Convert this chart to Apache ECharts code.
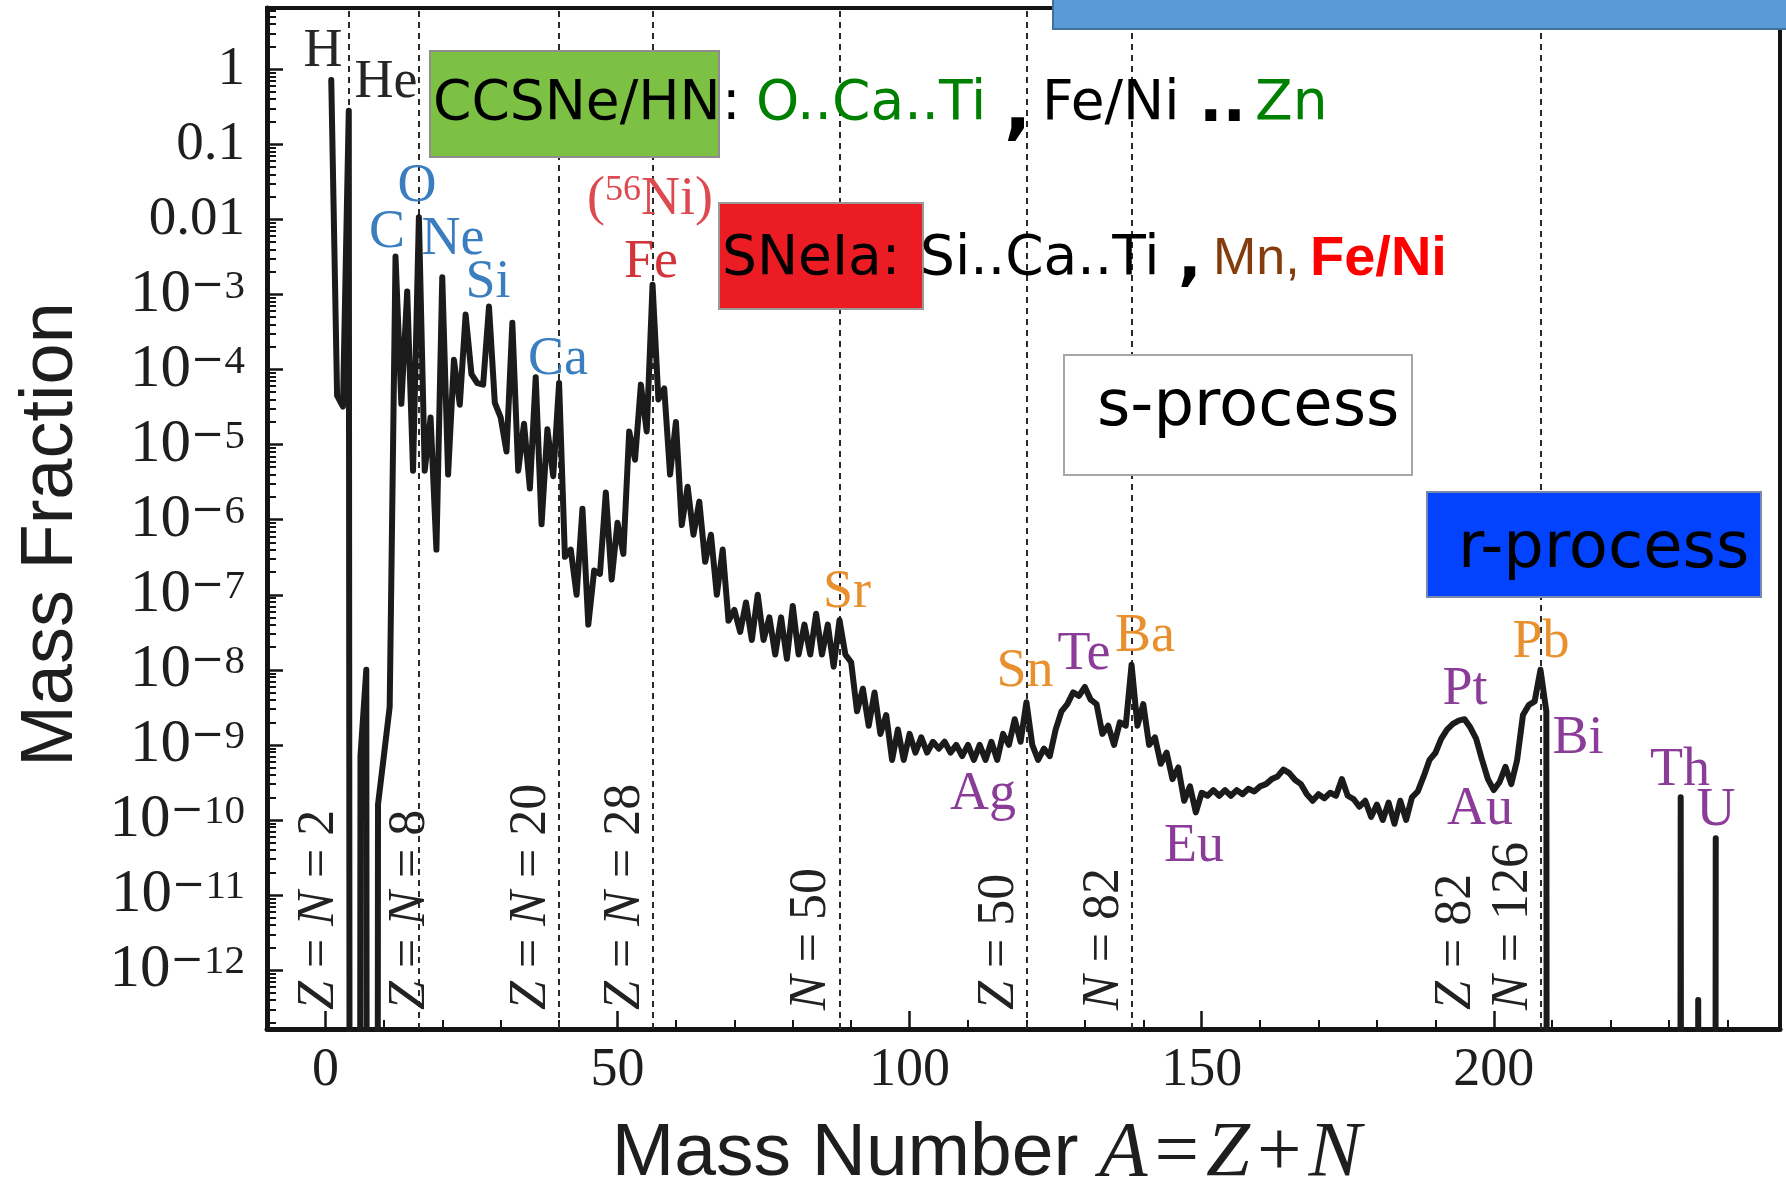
<!DOCTYPE html>
<html>
<head>
<meta charset="utf-8">
<title>Solar-system mass fractions</title>
<script src="https://cdn.jsdelivr.net/npm/echarts@6.0.0/dist/echarts.min.js"></script>
<style>
html, body { margin: 0; padding: 0; background: #ffffff; }
#chart { width: 1786px; height: 1181px; }
</style>
</head>
<body>
<div id="chart"></div>
<script>
// ---------------- data ----------------
const OFF = 1e-99; // no abundance: far below the plotted range

const massNumber = [
  1,2,3,4,5,6,7,8,9,10,
  11,12,13,14,15,16,17,18,19,20,
  21,22,23,24,25,26,27,28,29,30,
  31,32,33,34,35,36,37,38,39,40,
  41,42,43,44,45,46,47,48,49,50,
  51,52,53,54,55,56,57,58,59,60,
  61,62,63,64,65,66,67,68,69,70,
  71,72,73,74,75,76,77,78,79,80,
  81,82,83,84,85,86,87,88,89,90,
  91,92,93,94,95,96,97,98,99,100,
  101,102,103,104,105,106,107,108,109,110,
  111,112,113,114,115,116,117,118,119,120,
  121,122,123,124,125,126,127,128,129,130,
  131,132,133,134,135,136,137,138,139,140,
  141,142,143,144,145,146,147,148,149,150,
  151,152,153,154,155,156,157,158,159,160,
  161,162,163,164,165,166,167,168,169,170,
  171,172,173,174,175,176,177,178,179,180,
  181,182,183,184,185,186,187,188,189,190,
  191,192,193,194,195,196,197,198,199,200,
  201,202,203,204,205,206,207,208,209,
  210,231,232,233,234,235,236,237,238
];

const massFraction = [
  7.2e-1, 4.5e-5, 3.2e-5, 2.8e-1, OFF, 7.1e-10, 1.0e-8, OFF, 1.6e-10, 7.1e-10,
  3.2e-9, 3.2e-3, 3.5e-5, 1.1e-3, 4.5e-6, 1.07e-2, 4.5e-6, 2.3e-5, 4.0e-7, 1.7e-3,
  4.0e-6, 1.35e-4, 3.4e-5, 5.4e-4, 8.7e-5, 6.6e-5, 6.3e-5, 6.9e-4, 3.6e-5, 2.3e-5,
  8.1e-6, 4.2e-4, 4.5e-6, 1.9e-5, 2.6e-6, 7.9e-5, 8.7e-7, 1.6e-5, 3.8e-6, 6.6e-5,
  3.2e-7, 4.0e-7, 1.0e-7, 1.4e-6, 4.0e-8, 2.1e-7, 1.9e-7, 2.3e-6, 1.6e-7, 9.1e-7,
  3.5e-7, 1.5e-5, 6.3e-6, 6.3e-5, 1.5e-5, 1.35e-3, 4.0e-5, 5.6e-5, 4.0e-6, 2.0e-5,
  8.5e-7, 2.75e-6, 6.3e-7, 1.74e-6, 2.75e-7, 6.3e-7, 1.0e-7, 4.0e-7, 4.5e-8, 6.3e-8,
  3.2e-8, 7.9e-8, 2.5e-8, 1.0e-7, 2.5e-8, 5.0e-8, 1.6e-8, 5.0e-8, 1.4e-8, 7.1e-8,
  1.6e-8, 4.0e-8, 1.6e-8, 5.6e-8, 1.6e-8, 4.0e-8, 1.1e-8, 4.6e-8, 1.6e-8, 1.26e-8,
  2.8e-9, 5.6e-9, 1.8e-9, 5.0e-9, 1.4e-9, 2.5e-9, 6.3e-10, 1.6e-9, 6.3e-10, 1.4e-9,
  7.9e-10, 1.26e-9, 7.9e-10, 1.1e-9, 8.9e-10, 1.1e-9, 7.9e-10, 1.0e-9, 7.1e-10, 1.0e-9,
  6.3e-10, 1.0e-9, 6.3e-10, 1.1e-9, 6.3e-10, 1.4e-9, 1.0e-9, 2.2e-9, 1.1e-9, 3.7e-9,
  1.0e-9, 6.3e-10, 8.9e-10, 7.1e-10, 1.6e-9, 2.8e-9, 3.5e-9, 5.0e-9, 4.5e-9, 5.9e-9,
  4.0e-9, 3.5e-9, 1.4e-9, 1.8e-9, 1.0e-9, 2.0e-9, 1.8e-9, 1.17e-8, 1.8e-9, 3.5e-9,
  1.0e-9, 1.26e-9, 5.6e-10, 7.9e-10, 3.5e-10, 5.0e-10, 1.8e-10, 2.8e-10, 1.26e-10, 2.3e-10,
  2.1e-10, 2.5e-10, 2.1e-10, 2.5e-10, 2.1e-10, 2.5e-10, 2.2e-10, 2.6e-10, 2.4e-10, 2.8e-10,
  3.0e-10, 3.5e-10, 3.8e-10, 4.7e-10, 4.2e-10, 3.4e-10, 3.0e-10, 2.2e-10, 1.8e-10, 2.2e-10,
  1.95e-10, 2.3e-10, 2.1e-10, 3.5e-10, 2.1e-10, 1.9e-10, 1.5e-10, 1.8e-10, 1.1e-10, 1.6e-10,
  1.0e-10, 1.7e-10, 8.9e-11, 1.8e-10, 1.0e-10, 2.0e-10, 2.4e-10, 3.8e-10, 6.3e-10, 7.8e-10,
  1.2e-9, 1.6e-9, 1.9e-9, 2.1e-9, 2.2e-9, 1.7e-9, 1.2e-9, 6.3e-10, 3.5e-10, 2.5e-10,
  3.2e-10, 5.1e-10, 3.0e-10, 6.3e-10, 2.5e-9, 3.4e-9, 3.8e-9, 1.0e-8, 2.8e-9,
  OFF, OFF, 2.0e-10, OFF, OFF, 4.0e-13, OFF, OFF, 5.7e-11
];

// axes
const X_MIN = -10, X_MAX = 249;
const Y_MIN = 1.64e-13, Y_MAX = 6.56;
const xTickValues = [0, 50, 100, 150, 200];
const xMinorTickValues = [10, 20, 30, 40, 60, 70, 80, 90, 110, 120, 130, 140, 160, 170, 180, 190, 210, 220, 230, 240];
const yTickValues = [1, 0.1, 0.01, 1e-3, 1e-4, 1e-5, 1e-6, 1e-7, 1e-8, 1e-9, 1e-10, 1e-11, 1e-12];
const yMinorTickValues = [];
for (let n = -13; n <= 0; n++) {
  for (let k = 2; k <= 9; k++) {
    const v = Number((k * Math.pow(10, n)).toPrecision(3));
    if (v > Y_MIN && v < Y_MAX) yMinorTickValues.push(v);
  }
}

// magic numbers (dotted lines)
const magicA = [4, 16, 40, 56, 88, 120, 138, 208];
const magicLabels = [
  {parts: [['i','Z'],['r',' = '],['i','N'],['r',' = 2']], x: 319},
  {parts: [['i','Z'],['r',' = '],['i','N'],['r',' = 8']], x: 410},
  {parts: [['i','Z'],['r',' = '],['i','N'],['r',' = 20']], x: 531},
  {parts: [['i','Z'],['r',' = '],['i','N'],['r',' = 28']], x: 625},
  {parts: [['i','N'],['r',' = 50']], x: 811},
  {parts: [['i','Z'],['r',' = 50']], x: 999},
  {parts: [['i','N'],['r',' = 82']], x: 1104},
  {parts: [['i','Z'],['r',' = 82']], x: 1456},
  {parts: [['i','N'],['r',' = 126']], x: 1513}
];

// element annotations
const BLUE = '#3a7ebf', RED = '#d3343a', ORANGE = '#e8902d', PURPLE = '#8a3c98', DARK = '#262626';
const elementLabels = [
  ['H', DARK, 323, 52], ['He', DARK, 386, 83],
  ['O', BLUE, 417, 187], ['C', BLUE, 387, 233], ['Ne', BLUE, 453, 240],
  ['Si', BLUE, 488, 283], ['Ca', BLUE, 558, 360],
  ['Fe', RED, 651, 263],
  ['Sr', ORANGE, 847, 593], ['Sn', ORANGE, 1025, 672], ['Te', PURPLE, 1084, 655],
  ['Ba', ORANGE, 1145, 637], ['Ag', PURPLE, 983, 795], ['Eu', PURPLE, 1194, 847],
  ['Pt', PURPLE, 1465, 690], ['Pb', ORANGE, 1541, 643], ['Bi', PURPLE, 1578, 739],
  ['Au', PURPLE, 1480, 810], ['Th', PURPLE, 1680, 771], ['U', PURPLE, 1716, 811]
];

// ---------------- rendering ----------------
const SERIF = '"Liberation Serif", "Times New Roman", serif';
const SANS = '"Liberation Sans", Arial, sans-serif';
const DV = '"DejaVu Sans", Verdana, sans-serif';
const DVS = '"DejaVu Serif", serif';

const seriesData = massNumber.map((a, i) => [a, massFraction[i]]);

function text(x, y, str, font, fill, align, extra) {
  return {
    type: 'text', x: x, y: y, z: 110,
    style: Object.assign({
      text: str, font: font, fill: fill,
      align: align || 'left', verticalAlign: 'middle',
      textAlign: align || 'left', textVerticalAlign: 'middle'
    }, extra || {})
  };
}

const graphics = [];
// boxes
graphics.push({type: 'rect', z: 100, shape: {x: 1053, y: -3, width: 740, height: 32},
  style: {fill: '#5b9bd5', stroke: '#41719c', lineWidth: 2}});
graphics.push({type: 'rect', z: 100, shape: {x: 430, y: 51, width: 289, height: 106},
  style: {fill: '#7cc143', stroke: '#8e8e8e', lineWidth: 2}});
graphics.push({type: 'rect', z: 100, shape: {x: 719, y: 203, width: 204, height: 106},
  style: {fill: '#ec1c24', stroke: '#9a9a9a', lineWidth: 2}});
graphics.push({type: 'rect', z: 100, shape: {x: 1064, y: 355, width: 348, height: 120},
  style: {fill: '#ffffff', stroke: '#a6a6a6', lineWidth: 2}});
graphics.push({type: 'rect', z: 100, shape: {x: 1427, y: 492, width: 334, height: 105},
  style: {fill: '#0343fd', stroke: '#7b88ad', lineWidth: 2}});

// line 1: CCSNe/HN
graphics.push(text(433, 105, 'CCSNe/HN', '55px ' + DV, '#000'));
graphics.push(text(722, 105, ':', '55px ' + DV, '#000'));
graphics.push(text(756, 105, 'O..Ca..Ti', '55px ' + DV, '#008000'));
graphics.push(text(1004, 112, ',', 'bold 72px ' + DV, '#000'));
graphics.push(text(1042, 105, 'Fe/Ni', '55px ' + DV, '#000'));
graphics.push(text(1199, 105, '..', 'bold 62px ' + DV, '#000'));
graphics.push(text(1255, 105, 'Zn', '55px ' + DV, '#008000'));
// line 2: SNeIa
graphics.push(text(722, 260, 'SNeIa:', '55px ' + DV, '#000'));
graphics.push(text(920, 260, 'Si..Ca..Ti', '55px ' + DV, '#000'));
graphics.push(text(1178, 262, ',', 'bold 62px ' + DV, '#000'));
graphics.push(text(1213, 260, 'Mn,', '52px ' + SANS, '#843c0c'));
graphics.push(text(1310, 260, 'Fe/Ni', 'bold 56px ' + SANS, '#ff0000'));
// process boxes
graphics.push(text(1097, 408, 's-process', '64px ' + DV, '#000'));
graphics.push(text(1458, 550, 'r-process', '64px ' + DV, '#000'));

// element labels
elementLabels.forEach(e => {
  graphics.push(text(e[2], e[3], e[0], '54px ' + SERIF, e[1], 'center'));
});
// (56Ni)
graphics.push({
  type: 'text', x: 650, y: 200, z: 110,
  style: {
    text: '{p|(}{s|56}{p|Ni)}',
    align: 'center', verticalAlign: 'middle', textAlign: 'center', textVerticalAlign: 'middle',
    rich: {
      p: {fontFamily: SERIF, fontSize: 54, lineHeight: 54, fill: '#dc4a50'},
      s: {fontFamily: SERIF, fontSize: 36, lineHeight: 24, verticalAlign: 'top', fill: '#dc4a50'}
    }
  }
});
// rotated magic-number labels
magicLabels.forEach(m => {
  graphics.push({
    type: 'text', x: m.x, y: 1010, rotation: Math.PI / 2, z: 110,
    style: {
      text: m.parts.map(p => '{' + p[0] + '|' + p[1] + '}').join(''),
      align: 'left', verticalAlign: 'middle', textAlign: 'left', textVerticalAlign: 'middle',
      rich: {
        i: {fontFamily: SERIF, fontStyle: 'italic', fontSize: 52, fill: '#222'},
        r: {fontFamily: SERIF, fontSize: 52, fill: '#222'}
      }
    }
  });
});

function yLabel(v) {
  const e = Math.round(Math.log10(v));
  if (e === 0) return '1';
  if (e === -1) return '0.1';
  if (e === -2) return '0.01';
  return '{b|10}{m|\u2212}{s|' + (-e) + '}';
}

const option = {
  animation: false,
  backgroundColor: '#ffffff',
  grid: {left: 267, right: 6, top: 8, bottom: 152, show: true, containLabel: false,
    outerBoundsMode: 'none',
    borderColor: '#141414', borderWidth: 4, backgroundColor: 'transparent'},
  xAxis: [
    {
      type: 'value', min: X_MIN, max: X_MAX, position: 'bottom',
      axisLine: {show: true, onZero: false, lineStyle: {color: '#141414', width: 5}},
      axisTick: {show: true, inside: true, length: 18, customValues: xTickValues,
        lineStyle: {color: '#141414', width: 2.5}},
      axisLabel: {show: true, customValues: xTickValues, margin: 15,
        fontFamily: SERIF, fontSize: 54, color: '#1e1e1e'},
      splitLine: {show: false},
      name: '{s|Mass Number }{m|A}{g| }{r|=}{g| }{m|Z}{g| }{r|+}{g| }{m|N}',
      nameLocation: 'middle', nameGap: 86,
      nameTextStyle: {
        padding: [0, 74, 0, 0],
        rich: {
          s: {fontFamily: SANS, fontSize: 75, color: '#1e1e1e'},
          m: {fontFamily: SERIF, fontStyle: 'italic', fontSize: 79, color: '#1e1e1e'},
          r: {fontFamily: SERIF, fontSize: 79, color: '#1e1e1e'},
          g: {fontFamily: SERIF, fontSize: 28}
        }
      }
    },
    {
      type: 'value', min: X_MIN, max: X_MAX, position: 'bottom',
      axisLine: {show: false, onZero: false},
      axisTick: {show: true, inside: true, length: 9, customValues: xMinorTickValues,
        lineStyle: {color: '#141414', width: 2}},
      axisLabel: {show: false},
      splitLine: {show: false}
    }
  ],
  yAxis: [
    {
      type: 'log', logBase: 10, min: Y_MIN, max: Y_MAX, position: 'left',
      axisLine: {show: true, onZero: false, lineStyle: {color: '#141414', width: 5}},
      axisTick: {show: true, inside: true, length: 16, customValues: yTickValues,
        lineStyle: {color: '#141414', width: 2.5}},
      axisLabel: {show: true, customValues: yTickValues, margin: 22,
        fontFamily: SERIF, fontSize: 55, color: '#1e1e1e',
        formatter: yLabel,
        rich: {
          b: {fontFamily: SERIF, fontSize: 61, lineHeight: 56, color: '#1e1e1e'},
          m: {fontFamily: DVS, fontSize: 40, lineHeight: 26, verticalAlign: 'top', color: '#1e1e1e'},
          s: {fontFamily: SERIF, fontSize: 41, lineHeight: 26, verticalAlign: 'top', color: '#1e1e1e'}
        }
      },
      splitLine: {show: false},
      name: 'Mass Fraction', nameLocation: 'middle', nameGap: 178, nameRotate: 90,
      nameTextStyle: {fontFamily: SANS, fontSize: 74, color: '#1e1e1e', padding: [0, 32, 0, 0]}
    },
    {
      type: 'log', logBase: 10, min: Y_MIN, max: Y_MAX, position: 'left',
      axisLine: {show: false, onZero: false},
      axisTick: {show: true, inside: true, length: 9, customValues: yMinorTickValues,
        lineStyle: {color: '#141414', width: 2}},
      axisLabel: {show: false},
      splitLine: {show: false}
    }
  ],
  series: [
    {
      name: 'Solar abundance', type: 'line', xAxisIndex: 0, yAxisIndex: 0,
      data: seriesData, showSymbol: false, symbol: 'none', clip: true, z: 3,
      lineStyle: {color: '#1b1b1b', width: 6, join: 'round', cap: 'round'},
      markLine: {
        silent: true, z: 1, symbol: ['none', 'none'], animation: false,
        label: {show: false},
        lineStyle: {type: [6, 5], color: '#2a2a2a', width: 2},
        data: magicA.map(a => ({xAxis: a}))
      }
    }
  ],
  graphic: graphics
};

const chart = echarts.init(document.getElementById('chart'), null, {renderer: 'canvas'});
chart.setOption(option);
</script>
</body>
</html>
